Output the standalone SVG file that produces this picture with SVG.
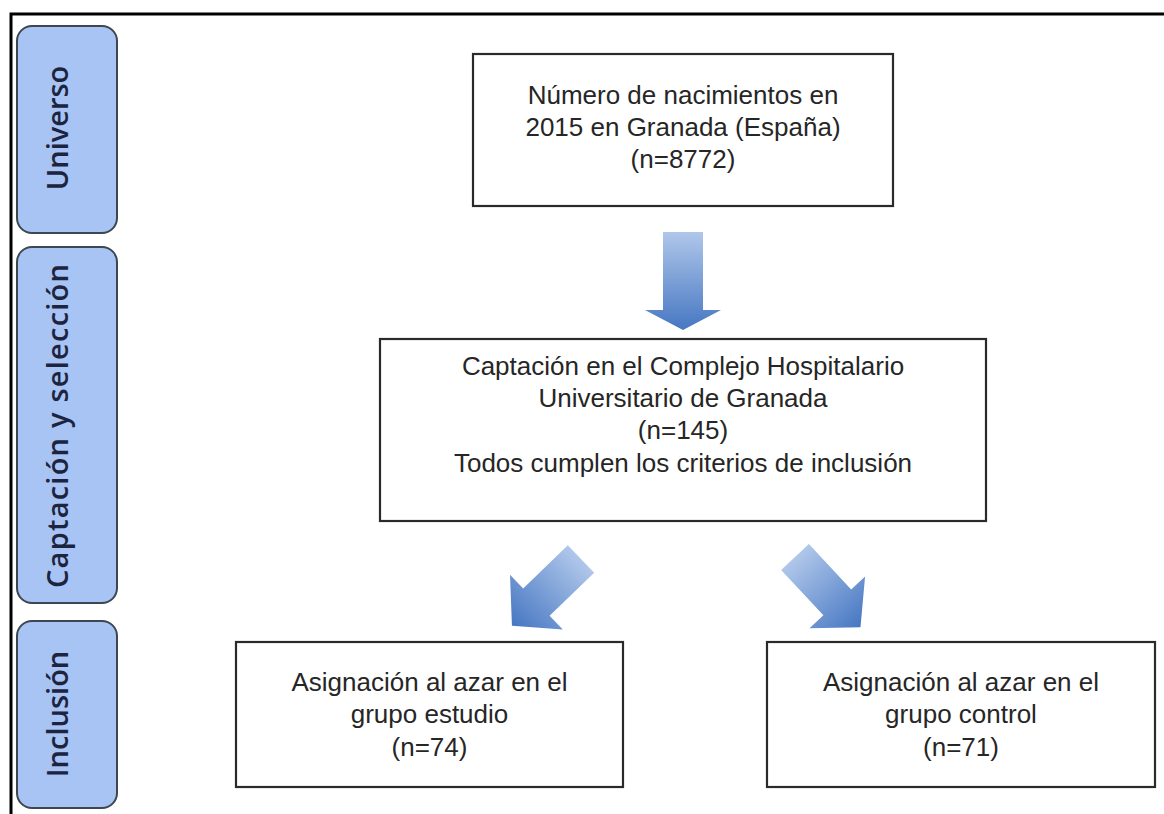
<svg xmlns="http://www.w3.org/2000/svg" width="1164" height="814" viewBox="0 0 1164 814">
<defs>
<style>
.frame{stroke:#000;stroke-width:3;fill:none}
.pill{fill:#A8C4F4;stroke:#3E4650;stroke-width:2}
.plabel{font-family:"Open Sans","Liberation Sans",sans-serif;font-weight:600;font-size:29px;fill:#1C2440;text-anchor:middle}
.box{fill:#fff;stroke:#2a2a2a;stroke-width:2.2}
.t{font-family:"Liberation Sans",Arial,sans-serif;font-size:26px;fill:#262626;text-anchor:middle}
</style>
<linearGradient id="g" x1="0" y1="0" x2="1" y2="0">
<stop offset="0" stop-color="#B0C7EA"/>
<stop offset="1" stop-color="#4677C2"/>
</linearGradient>
<path id="arr" d="M0,-19 L62,-19 L62,-38 L96,0 L62,38 L62,19 L0,19 Z" fill="url(#g)"/>
<path id="arrd" d="M0,-20 L78,-20 L78,-38 L98,0 L78,38 L78,20 L0,20 Z" fill="url(#g)"/>
</defs>
<rect width="1164" height="814" fill="#fff"/>
<g id="frame">
<path class="frame" d="M11,814 L11,14 L1164,14"/>
</g>
<g id="stage-universo">
<rect class="pill" x="17" y="26" width="100" height="207" rx="15"/>
<text class="plabel" transform="translate(68,128) rotate(-90)">Universo</text>
</g>
<g id="stage-captacion">
<rect class="pill" x="17" y="247" width="100" height="356" rx="15"/>
<text class="plabel" transform="translate(68,426) rotate(-90)" textLength="324" lengthAdjust="spacing">Captación y selección</text>
</g>
<g id="stage-inclusion">
<rect class="pill" x="17" y="621" width="100" height="187" rx="15"/>
<text class="plabel" transform="translate(68,714) rotate(-90)">Inclusión</text>
</g>
<g id="connectors">
<use href="#arrd" transform="translate(683,232) rotate(90)"/>
<use href="#arr" transform="translate(581,559) rotate(136)"/>
<use href="#arr" transform="translate(795,557) rotate(47)"/>
</g>
<g id="node-nacimientos">
<rect class="box" x="473" y="54" width="420" height="152"/>
<text class="t" x="683" y="104">Número de nacimientos en</text>
<text class="t" x="683" y="136">2015 en Granada (España)</text>
<text class="t" x="683" y="168">(n=8772)</text>
</g>
<g id="node-captacion">
<rect class="box" x="380" y="339" width="606" height="182"/>
<text class="t" x="683" y="375">Captación en el Complejo Hospitalario</text>
<text class="t" x="683" y="407">Universitario de Granada</text>
<text class="t" x="683" y="439">(n=145)</text>
<text class="t" x="683" y="472">Todos cumplen los criterios de inclusión</text>
</g>
<g id="node-estudio">
<rect class="box" x="236" y="642" width="387" height="145"/>
<text class="t" x="429.5" y="691">Asignación al azar en el</text>
<text class="t" x="429.5" y="723">grupo estudio</text>
<text class="t" x="429.5" y="756">(n=74)</text>
</g>
<g id="node-control">
<rect class="box" x="767" y="642" width="388" height="145"/>
<text class="t" x="961" y="691">Asignación al azar en el</text>
<text class="t" x="961" y="723">grupo control</text>
<text class="t" x="961" y="756">(n=71)</text>
</g>
</svg>
